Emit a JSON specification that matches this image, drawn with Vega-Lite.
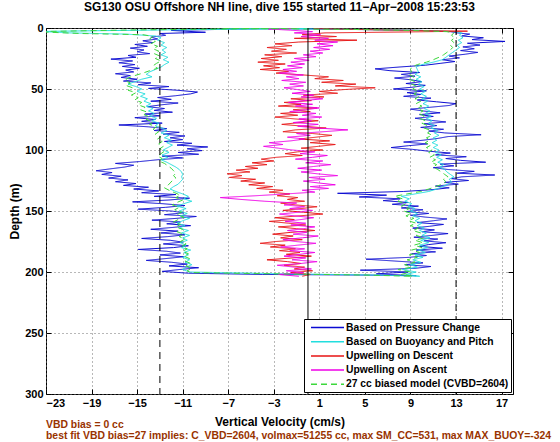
{
  "$schema": "https://vega.github.io/schema/vega-lite/v6.json",
  "width": 467,
  "height": 366,
  "autosize": "none",
  "padding": {"left": 46, "top": 28, "right": 47, "bottom": 48},
  "background": "white",
  "title": {"text": "SG130 OSU Offshore NH line, dive 155 started 11−Apr−2008 15:23:53", "font": "Liberation Sans", "fontSize": 12, "fontWeight": "bold", "color": "black", "offset": 8, "frame": "group", "anchor": "middle"},
  "config": {
    "font": "Liberation Sans",
    "view": {"stroke": "black", "strokeWidth": 1},
    "axis": {"labelFont": "Liberation Sans", "labelFontWeight": "bold", "labelFontSize": 11, "labelColor": "black", "titleFont": "Liberation Sans", "titleFontWeight": "bold", "titleFontSize": 12, "titleColor": "black", "tickColor": "black", "tickSize": -5, "labelPadding": 8, "domain": false, "gridColor": "#707070", "gridDash": [1, 3], "gridWidth": 1, "gridOpacity": 1}
  },
  "datasets": {
    "profiles": [
      {"s":"P","d":0.3,"v":-1},{"s":"P","d":1,"v":-7},{"s":"P","d":2,"v":-12},{"s":"P","d":3.5,"v":-9},{"s":"P","d":4.5,"v":-13},{"s":"P","d":6,"v":-12.5},{"s":"P","d":7.5,"v":-13.8},{"s":"P","d":9,"v":-13.2},{"s":"P","d":10.5,"v":-14.5},{"s":"P","d":12,"v":-13.6},{"s":"P","d":13.5,"v":-15.2},{"s":"P","d":15,"v":-14.1},{"s":"P","d":16.5,"v":-15.6},{"s":"P","d":18,"v":-14.4},{"s":"P","d":19.5,"v":-15},{"s":"P","d":21,"v":-13.9},{"s":"P","d":22.5,"v":-15.8},{"s":"P","d":24,"v":-15.1},{"s":"P","d":25.5,"v":-17.3},{"s":"P","d":27,"v":-15.4},{"s":"P","d":28.5,"v":-16.6},{"s":"P","d":30,"v":-15.2},{"s":"P","d":31.5,"v":-16.3},{"s":"P","d":33,"v":-14.8},{"s":"P","d":34.5,"v":-16},{"s":"P","d":36,"v":-15.3},{"s":"P","d":37.5,"v":-16.9},{"s":"P","d":39,"v":-15.6},{"s":"P","d":40.5,"v":-16.4},{"s":"P","d":42,"v":-15},{"s":"P","d":43.5,"v":-16.2},{"s":"P","d":45,"v":-13.8},{"s":"P","d":46.5,"v":-14.9},{"s":"P","d":48,"v":-12.2},{"s":"P","d":49.5,"v":-14},{"s":"P","d":51,"v":-11.5},{"s":"P","d":52.5,"v":-9.7},{"s":"P","d":54,"v":-10.3},{"s":"P","d":55.5,"v":-11.6},{"s":"P","d":57,"v":-13.2},{"s":"P","d":58.5,"v":-12},{"s":"P","d":60,"v":-13.8},{"s":"P","d":61.5,"v":-11.4},{"s":"P","d":63,"v":-12.9},{"s":"P","d":64.5,"v":-14.1},{"s":"P","d":66,"v":-12.6},{"s":"P","d":67.5,"v":-13.5},{"s":"P","d":69,"v":-11.9},{"s":"P","d":70.5,"v":-14.3},{"s":"P","d":72,"v":-13},{"s":"P","d":73.5,"v":-15.2},{"s":"P","d":75,"v":-13.4},{"s":"P","d":76.5,"v":-14.6},{"s":"P","d":78,"v":-12.8},{"s":"P","d":79.5,"v":-16.6},{"s":"P","d":81,"v":-14},{"s":"P","d":82.5,"v":-12.4},{"s":"P","d":84,"v":-13.5},{"s":"P","d":85.5,"v":-11.3},{"s":"P","d":87,"v":-12.7},{"s":"P","d":88.5,"v":-10.8},{"s":"P","d":90,"v":-12.1},{"s":"P","d":91.5,"v":-11},{"s":"P","d":93,"v":-12.6},{"s":"P","d":94.5,"v":-10.2},{"s":"P","d":96,"v":-11.5},{"s":"P","d":97.5,"v":-8.8},{"s":"P","d":99,"v":-10.6},{"s":"P","d":100.5,"v":-9.3},{"s":"P","d":102,"v":-11.4},{"s":"P","d":103.5,"v":-9.6},{"s":"P","d":105,"v":-12.8},{"s":"P","d":106.5,"v":-11},{"s":"P","d":108,"v":-13.2},{"s":"P","d":109.5,"v":-14.8},{"s":"P","d":111,"v":-16.9},{"s":"P","d":112.5,"v":-15.3},{"s":"P","d":114,"v":-16.1},{"s":"P","d":115.5,"v":-17.4},{"s":"P","d":117,"v":-18.6},{"s":"P","d":118.5,"v":-17.2},{"s":"P","d":120,"v":-18.1},{"s":"P","d":121.5,"v":-16.4},{"s":"P","d":123,"v":-17.5},{"s":"P","d":124.5,"v":-15.8},{"s":"P","d":126,"v":-16.9},{"s":"P","d":127.5,"v":-15.1},{"s":"P","d":129,"v":-16.2},{"s":"P","d":130.5,"v":-14},{"s":"P","d":132,"v":-15.3},{"s":"P","d":133.5,"v":-13.1},{"s":"P","d":135,"v":-14.6},{"s":"P","d":136.5,"v":-11.6},{"s":"P","d":138,"v":-13.5},{"s":"P","d":139.5,"v":-10.4},{"s":"P","d":141,"v":-12.2},{"s":"P","d":142.5,"v":-15.4},{"s":"P","d":144,"v":-12.8},{"s":"P","d":145.5,"v":-10.8},{"s":"P","d":147,"v":-12.5},{"s":"P","d":148.5,"v":-14.9},{"s":"P","d":150,"v":-12},{"s":"P","d":151.5,"v":-10.9},{"s":"P","d":153,"v":-12.6},{"s":"P","d":154.5,"v":-9.8},{"s":"P","d":156,"v":-11.5},{"s":"P","d":157.5,"v":-13.7},{"s":"P","d":159,"v":-11.2},{"s":"P","d":160.5,"v":-12.4},{"s":"P","d":162,"v":-10.3},{"s":"P","d":163.5,"v":-11.9},{"s":"P","d":165,"v":-13.8},{"s":"P","d":166.5,"v":-11.4},{"s":"P","d":168,"v":-12.9},{"s":"P","d":169.5,"v":-10.8},{"s":"P","d":171,"v":-12.3},{"s":"P","d":172.5,"v":-14.6},{"s":"P","d":174,"v":-12.1},{"s":"P","d":175.5,"v":-11},{"s":"P","d":177,"v":-12.7},{"s":"P","d":178.5,"v":-10.5},{"s":"P","d":180,"v":-11.8},{"s":"P","d":181.5,"v":-14.9},{"s":"P","d":183,"v":-12.4},{"s":"P","d":184.5,"v":-11.2},{"s":"P","d":186,"v":-13},{"s":"P","d":187.5,"v":-10.9},{"s":"P","d":189,"v":-12.5},{"s":"P","d":190.5,"v":-14.2},{"s":"P","d":192,"v":-12},{"s":"P","d":193.5,"v":-10.6},{"s":"P","d":195,"v":-12.2},{"s":"P","d":196.5,"v":-9.6},{"s":"P","d":198,"v":-11.3},{"s":"P","d":199.5,"v":-12.8},{"s":"P","d":201,"v":-10.5},{"s":"P","d":202,"v":-4},{"s":"P","d":202.5,"v":5},
      {"s":"P","d":203,"v":9.5},{"s":"P","d":201.5,"v":6},{"s":"P","d":200,"v":8.8},{"s":"P","d":198.5,"v":4.6},{"s":"P","d":197,"v":9.4},{"s":"P","d":195.5,"v":10.8},{"s":"P","d":194,"v":8.5},{"s":"P","d":192.5,"v":10.1},{"s":"P","d":191,"v":7.6},{"s":"P","d":189.5,"v":5.1},{"s":"P","d":188,"v":8.9},{"s":"P","d":186.5,"v":10.4},{"s":"P","d":185,"v":9.1},{"s":"P","d":183.5,"v":11.2},{"s":"P","d":182,"v":9.5},{"s":"P","d":180.5,"v":11.8},{"s":"P","d":179,"v":9.8},{"s":"P","d":177.5,"v":10.6},{"s":"P","d":176,"v":12.1},{"s":"P","d":174.5,"v":10.2},{"s":"P","d":173,"v":11.4},{"s":"P","d":171.5,"v":9.3},{"s":"P","d":170,"v":10.9},{"s":"P","d":168.5,"v":12.3},{"s":"P","d":167,"v":10},{"s":"P","d":165.5,"v":11.1},{"s":"P","d":164,"v":9.2},{"s":"P","d":162.5,"v":10.7},{"s":"P","d":161,"v":11.9},{"s":"P","d":159.5,"v":9.6},{"s":"P","d":158,"v":11},{"s":"P","d":156.5,"v":12.2},{"s":"P","d":155,"v":10.3},{"s":"P","d":153.5,"v":9},{"s":"P","d":152,"v":10.6},{"s":"P","d":150.5,"v":8.6},{"s":"P","d":149,"v":10.1},{"s":"P","d":147.5,"v":8.2},{"s":"P","d":146,"v":9.7},{"s":"P","d":144.5,"v":7.4},{"s":"P","d":143,"v":8.8},{"s":"P","d":141.5,"v":6.6},{"s":"P","d":140,"v":8.1},{"s":"P","d":138.5,"v":4.5},{"s":"P","d":137,"v":6.9},{"s":"P","d":135.5,"v":2.6},{"s":"P","d":134,"v":8.4},{"s":"P","d":132.5,"v":10.9},{"s":"P","d":131,"v":12.4},{"s":"P","d":129.5,"v":11.2},{"s":"P","d":128,"v":13.2},{"s":"P","d":126.5,"v":12},{"s":"P","d":125,"v":14.1},{"s":"P","d":123.5,"v":12.6},{"s":"P","d":122,"v":13.5},{"s":"P","d":120.5,"v":16.4},{"s":"P","d":119,"v":13.1},{"s":"P","d":117.5,"v":14.6},{"s":"P","d":116,"v":12.3},{"s":"P","d":114.5,"v":11},{"s":"P","d":113,"v":12.8},{"s":"P","d":111.5,"v":11.6},{"s":"P","d":110,"v":15.6},{"s":"P","d":108.5,"v":13.4},{"s":"P","d":107,"v":12.1},{"s":"P","d":105.5,"v":13.9},{"s":"P","d":104,"v":11.2},{"s":"P","d":102.5,"v":12.5},{"s":"P","d":101,"v":10.6},{"s":"P","d":99.5,"v":9.2},{"s":"P","d":98,"v":7.3},{"s":"P","d":96.5,"v":8.8},{"s":"P","d":95,"v":10.5},{"s":"P","d":93.5,"v":8.4},{"s":"P","d":92,"v":10.1},{"s":"P","d":90.5,"v":11.4},{"s":"P","d":89,"v":12.3},{"s":"P","d":87.5,"v":15.2},{"s":"P","d":86,"v":12},{"s":"P","d":84.5,"v":10.6},{"s":"P","d":83,"v":11.9},{"s":"P","d":81.5,"v":9.9},{"s":"P","d":80,"v":11.3},{"s":"P","d":78.5,"v":10.2},{"s":"P","d":77,"v":12.1},{"s":"P","d":75.5,"v":10.6},{"s":"P","d":74,"v":9.4},{"s":"P","d":72.5,"v":11},{"s":"P","d":71,"v":9.8},{"s":"P","d":69.5,"v":11.6},{"s":"P","d":68,"v":10.1},{"s":"P","d":66.5,"v":9},{"s":"P","d":65,"v":10.7},{"s":"P","d":63.5,"v":12.4},{"s":"P","d":62,"v":13},{"s":"P","d":60.5,"v":11.3},{"s":"P","d":59,"v":9.6},{"s":"P","d":57.5,"v":10.8},{"s":"P","d":56,"v":8.4},{"s":"P","d":54.5,"v":9.9},{"s":"P","d":53,"v":8.7},{"s":"P","d":51.5,"v":10.4},{"s":"P","d":50,"v":7.5},{"s":"P","d":48.5,"v":9.2},{"s":"P","d":47,"v":10.3},{"s":"P","d":45.5,"v":8.6},{"s":"P","d":44,"v":10},{"s":"P","d":42.5,"v":9.1},{"s":"P","d":41,"v":7.6},{"s":"P","d":39.5,"v":9.4},{"s":"P","d":38,"v":8.2},{"s":"P","d":36.5,"v":9.8},{"s":"P","d":35,"v":7.2},{"s":"P","d":33.5,"v":5.9},{"s":"P","d":32,"v":8},{"s":"P","d":30.5,"v":10.3},{"s":"P","d":29,"v":11.6},{"s":"P","d":27.5,"v":12.9},{"s":"P","d":26,"v":11.8},{"s":"P","d":24.5,"v":13.3},{"s":"P","d":23,"v":12.4},{"s":"P","d":21.5,"v":13.8},{"s":"P","d":20,"v":14.9},{"s":"P","d":18.5,"v":13.4},{"s":"P","d":17,"v":14.6},{"s":"P","d":15.5,"v":13.6},{"s":"P","d":14,"v":15.1},{"s":"P","d":12.5,"v":14},{"s":"P","d":11,"v":17.3},{"s":"P","d":9.5,"v":14.4},{"s":"P","d":8,"v":15.4},{"s":"P","d":6.5,"v":13.5},{"s":"P","d":5,"v":14.2},{"s":"P","d":4,"v":13.1},{"s":"P","d":3,"v":12.5},{"s":"P","d":2,"v":10},{"s":"P","d":1.2,"v":4},{"s":"P","d":0.5,"v":-3},{"s":"P","d":0.2,"v":-6},

      {"s":"B","d":0.4,"v":0},{"s":"B","d":1.5,"v":-12},{"s":"B","d":2.8,"v":-23.5},{"s":"B","d":4,"v":-21},{"s":"B","d":5,"v":-16},{"s":"B","d":6.5,"v":-13.4},{"s":"B","d":8,"v":-12.9},{"s":"B","d":10,"v":-13.2},{"s":"B","d":12,"v":-12.6},{"s":"B","d":14,"v":-12.9},{"s":"B","d":16,"v":-12.4},{"s":"B","d":18,"v":-12.8},{"s":"B","d":20,"v":-12.5},{"s":"B","d":22,"v":-12.9},{"s":"B","d":24,"v":-12.3},{"s":"B","d":26,"v":-12.7},{"s":"B","d":28,"v":-12.2},{"s":"B","d":30,"v":-12.6},{"s":"B","d":32,"v":-12.9},{"s":"B","d":34,"v":-13.4},{"s":"B","d":36,"v":-13.9},{"s":"B","d":38,"v":-14.2},{"s":"B","d":40,"v":-13.7},{"s":"B","d":42,"v":-14.6},{"s":"B","d":44,"v":-15.2},{"s":"B","d":46,"v":-15.8},{"s":"B","d":48,"v":-15.1},{"s":"B","d":50,"v":-14.6},{"s":"B","d":52,"v":-15},{"s":"B","d":54,"v":-14.3},{"s":"B","d":56,"v":-14.7},{"s":"B","d":58,"v":-14.1},{"s":"B","d":60,"v":-14.4},{"s":"B","d":62,"v":-13.8},{"s":"B","d":64,"v":-14.2},{"s":"B","d":66,"v":-13.6},{"s":"B","d":68,"v":-14},{"s":"B","d":70,"v":-13.5},{"s":"B","d":72,"v":-13.9},{"s":"B","d":74,"v":-13.3},{"s":"B","d":76,"v":-13.7},{"s":"B","d":78,"v":-13.1},{"s":"B","d":80,"v":-13.4},{"s":"B","d":82,"v":-12.8},{"s":"B","d":84,"v":-12.4},{"s":"B","d":86,"v":-12.9},{"s":"B","d":88,"v":-12.2},{"s":"B","d":90,"v":-12.6},{"s":"B","d":92,"v":-12},{"s":"B","d":94,"v":-12.4},{"s":"B","d":96,"v":-11.9},{"s":"B","d":98,"v":-12.3},{"s":"B","d":100,"v":-12.7},{"s":"B","d":102,"v":-12.2},{"s":"B","d":104,"v":-12.8},{"s":"B","d":106,"v":-12.3},{"s":"B","d":108,"v":-12.9},{"s":"B","d":110,"v":-12.4},{"s":"B","d":112,"v":-12},{"s":"B","d":114,"v":-11.6},{"s":"B","d":116,"v":-11.3},{"s":"B","d":118,"v":-11.1},{"s":"B","d":120,"v":-11},{"s":"B","d":122,"v":-11.1},{"s":"B","d":124,"v":-11},{"s":"B","d":126,"v":-11.2},{"s":"B","d":128,"v":-11.4},{"s":"B","d":130,"v":-11.8},{"s":"B","d":132,"v":-12.1},{"s":"B","d":134,"v":-11.6},{"s":"B","d":136,"v":-11},{"s":"B","d":138,"v":-10.5},{"s":"B","d":140,"v":-10.9},{"s":"B","d":142,"v":-10.2},{"s":"B","d":144,"v":-10.9},{"s":"B","d":146,"v":-11.5},{"s":"B","d":148,"v":-10.7},{"s":"B","d":150,"v":-11.3},{"s":"B","d":152,"v":-10.6},{"s":"B","d":154,"v":-11.2},{"s":"B","d":156,"v":-10.4},{"s":"B","d":158,"v":-11},{"s":"B","d":160,"v":-11.5},{"s":"B","d":162,"v":-10.8},{"s":"B","d":164,"v":-11.3},{"s":"B","d":166,"v":-10.5},{"s":"B","d":168,"v":-11.1},{"s":"B","d":170,"v":-10.4},{"s":"B","d":172,"v":-11},{"s":"B","d":174,"v":-10.6},{"s":"B","d":176,"v":-11.2},{"s":"B","d":178,"v":-10.7},{"s":"B","d":180,"v":-11.1},{"s":"B","d":182,"v":-10.3},{"s":"B","d":184,"v":-10.9},{"s":"B","d":186,"v":-10.5},{"s":"B","d":188,"v":-11},{"s":"B","d":190,"v":-10.4},{"s":"B","d":192,"v":-10.8},{"s":"B","d":194,"v":-10.2},{"s":"B","d":196,"v":-10.7},{"s":"B","d":198,"v":-11},{"s":"B","d":200,"v":-10.4},{"s":"B","d":201.5,"v":-2},{"s":"B","d":202.5,"v":6},
      {"s":"B","d":203.5,"v":9.8},{"s":"B","d":202,"v":8.6},{"s":"B","d":200,"v":9.5},{"s":"B","d":198,"v":8.3},{"s":"B","d":196,"v":9.6},{"s":"B","d":194,"v":9},{"s":"B","d":192,"v":9.9},{"s":"B","d":190,"v":9.2},{"s":"B","d":188,"v":10.1},{"s":"B","d":186,"v":9.4},{"s":"B","d":184,"v":10.3},{"s":"B","d":182,"v":9.7},{"s":"B","d":180,"v":10.5},{"s":"B","d":178,"v":9.8},{"s":"B","d":176,"v":10.6},{"s":"B","d":174,"v":9.9},{"s":"B","d":172,"v":10.7},{"s":"B","d":170,"v":10},{"s":"B","d":168,"v":10.4},{"s":"B","d":166,"v":9.8},{"s":"B","d":164,"v":10.2},{"s":"B","d":162,"v":9.6},{"s":"B","d":160,"v":10},{"s":"B","d":158,"v":9.4},{"s":"B","d":156,"v":9.8},{"s":"B","d":154,"v":9.2},{"s":"B","d":152,"v":9.6},{"s":"B","d":150,"v":9},{"s":"B","d":148,"v":9.4},{"s":"B","d":146,"v":8.8},{"s":"B","d":144,"v":9.1},{"s":"B","d":142,"v":8.5},{"s":"B","d":140,"v":8.9},{"s":"B","d":138,"v":8.2},{"s":"B","d":136,"v":9.4},{"s":"B","d":134,"v":10.6},{"s":"B","d":132,"v":11.3},{"s":"B","d":130,"v":11.8},{"s":"B","d":128,"v":12.3},{"s":"B","d":126,"v":12.6},{"s":"B","d":124,"v":12.4},{"s":"B","d":122,"v":12.8},{"s":"B","d":120,"v":12.5},{"s":"B","d":118,"v":12.2},{"s":"B","d":116,"v":12},{"s":"B","d":114,"v":11.6},{"s":"B","d":112,"v":11.9},{"s":"B","d":110,"v":11.4},{"s":"B","d":108,"v":11.8},{"s":"B","d":106,"v":11.3},{"s":"B","d":104,"v":11.7},{"s":"B","d":102,"v":11.2},{"s":"B","d":100,"v":11.5},{"s":"B","d":98,"v":11},{"s":"B","d":96,"v":11.4},{"s":"B","d":94,"v":10.9},{"s":"B","d":92,"v":11.3},{"s":"B","d":90,"v":11},{"s":"B","d":88,"v":11.5},{"s":"B","d":86,"v":11.1},{"s":"B","d":84,"v":11.4},{"s":"B","d":82,"v":10.8},{"s":"B","d":80,"v":11.1},{"s":"B","d":78,"v":10.6},{"s":"B","d":76,"v":10.9},{"s":"B","d":74,"v":10.4},{"s":"B","d":72,"v":10.8},{"s":"B","d":70,"v":10.3},{"s":"B","d":68,"v":10.7},{"s":"B","d":66,"v":10.2},{"s":"B","d":64,"v":10.6},{"s":"B","d":62,"v":10.1},{"s":"B","d":60,"v":10.5},{"s":"B","d":58,"v":10},{"s":"B","d":56,"v":10.4},{"s":"B","d":54,"v":9.9},{"s":"B","d":52,"v":10.3},{"s":"B","d":50,"v":9.8},{"s":"B","d":48,"v":10.2},{"s":"B","d":46,"v":9.7},{"s":"B","d":44,"v":10},{"s":"B","d":42,"v":9.5},{"s":"B","d":40,"v":9.9},{"s":"B","d":38,"v":9.4},{"s":"B","d":36,"v":9.7},{"s":"B","d":34,"v":9.6},{"s":"B","d":32,"v":9.5},{"s":"B","d":30,"v":10},{"s":"B","d":28,"v":11},{"s":"B","d":26,"v":11.8},{"s":"B","d":24,"v":12.1},{"s":"B","d":22,"v":12.4},{"s":"B","d":20,"v":12.7},{"s":"B","d":18,"v":13},{"s":"B","d":16,"v":13.3},{"s":"B","d":14,"v":13.1},{"s":"B","d":12,"v":13.5},{"s":"B","d":10,"v":13.2},{"s":"B","d":8,"v":13.6},{"s":"B","d":6,"v":13.3},{"s":"B","d":4,"v":13.5},{"s":"B","d":3,"v":13},{"s":"B","d":2,"v":10},{"s":"B","d":1.2,"v":5},{"s":"B","d":0.6,"v":-2},{"s":"B","d":0.2,"v":-7},

      {"s":"D","d":0.5,"v":0.5},{"s":"D","d":1.8,"v":8},{"s":"D","d":2.6,"v":14},{"s":"D","d":3.2,"v":9},{"s":"D","d":4,"v":1.5},{"s":"D","d":5.5,"v":-0.5},{"s":"D","d":7,"v":2.5},{"s":"D","d":8.5,"v":-1.2},{"s":"D","d":10,"v":4.3},{"s":"D","d":11.5,"v":-0.8},{"s":"D","d":13,"v":-2.9},{"s":"D","d":14.5,"v":-1.4},{"s":"D","d":16,"v":-3.6},{"s":"D","d":17.5,"v":-1.9},{"s":"D","d":19,"v":-3.2},{"s":"D","d":20.5,"v":-1},{"s":"D","d":22,"v":-3.8},{"s":"D","d":23.5,"v":-2.3},{"s":"D","d":25,"v":-4.1},{"s":"D","d":26.5,"v":-2.6},{"s":"D","d":28,"v":-4.4},{"s":"D","d":29.5,"v":-2},{"s":"D","d":31,"v":-3.9},{"s":"D","d":32.5,"v":-2.5},{"s":"D","d":34,"v":-4.2},{"s":"D","d":35.5,"v":-1.7},{"s":"D","d":37,"v":-2.8},{"s":"D","d":38.5,"v":-0.4},{"s":"D","d":40,"v":1.8},{"s":"D","d":41.5,"v":0.6},{"s":"D","d":43,"v":3.1},{"s":"D","d":44.5,"v":1.2},{"s":"D","d":46,"v":4.2},{"s":"D","d":47.5,"v":2.4},{"s":"D","d":49,"v":5.9},{"s":"D","d":50.5,"v":3.1},{"s":"D","d":52,"v":1},{"s":"D","d":53.5,"v":2.6},{"s":"D","d":55,"v":-0.4},{"s":"D","d":56.5,"v":1.4},{"s":"D","d":58,"v":-1.5},{"s":"D","d":59.5,"v":0.3},{"s":"D","d":61,"v":-2.1},{"s":"D","d":62.5,"v":-0.6},{"s":"D","d":64,"v":-2.6},{"s":"D","d":65.5,"v":0.8},{"s":"D","d":67,"v":-1.3},{"s":"D","d":68.5,"v":0.2},{"s":"D","d":70,"v":-2.4},{"s":"D","d":71.5,"v":-0.9},{"s":"D","d":73,"v":-2.9},{"s":"D","d":74.5,"v":-1.2},{"s":"D","d":76,"v":0.9},{"s":"D","d":77.5,"v":-0.7},{"s":"D","d":79,"v":-2.3},{"s":"D","d":80.5,"v":-0.4},{"s":"D","d":82,"v":1.6},{"s":"D","d":83.5,"v":-1.1},{"s":"D","d":85,"v":-2.2},{"s":"D","d":86.5,"v":0.4},{"s":"D","d":88,"v":2.1},{"s":"D","d":89.5,"v":0.7},{"s":"D","d":91,"v":-0.8},{"s":"D","d":92.5,"v":1.9},{"s":"D","d":94,"v":0.2},{"s":"D","d":95.5,"v":2.4},{"s":"D","d":97,"v":0.9},{"s":"D","d":98.5,"v":-0.6},{"s":"D","d":100,"v":1.3},{"s":"D","d":101.5,"v":-0.9},{"s":"D","d":103,"v":-2},{"s":"D","d":104.5,"v":-0.5},{"s":"D","d":106,"v":-2.8},{"s":"D","d":107.5,"v":-4.1},{"s":"D","d":109,"v":-3},{"s":"D","d":110.5,"v":-4.9},{"s":"D","d":112,"v":-3.6},{"s":"D","d":113.5,"v":-5.5},{"s":"D","d":115,"v":-4.4},{"s":"D","d":116.5,"v":-6.3},{"s":"D","d":118,"v":-5.1},{"s":"D","d":119.5,"v":-7.1},{"s":"D","d":121,"v":-5.8},{"s":"D","d":122.5,"v":-6.9},{"s":"D","d":124,"v":-4.6},{"s":"D","d":125.5,"v":-5.9},{"s":"D","d":127,"v":-3.8},{"s":"D","d":128.5,"v":-5.2},{"s":"D","d":130,"v":-3.1},{"s":"D","d":131.5,"v":-4.5},{"s":"D","d":133,"v":-2.2},{"s":"D","d":134.5,"v":-3.4},{"s":"D","d":136,"v":-1.6},{"s":"D","d":137.5,"v":-2.7},{"s":"D","d":139,"v":-0.9},{"s":"D","d":140.5,"v":-1.8},{"s":"D","d":142,"v":-0.3},{"s":"D","d":143.5,"v":-2.4},{"s":"D","d":145,"v":-1.1},{"s":"D","d":146.5,"v":0.8},{"s":"D","d":148,"v":-0.6},{"s":"D","d":149.5,"v":-2.2},{"s":"D","d":151,"v":-0.4},{"s":"D","d":152.5,"v":1.3},{"s":"D","d":154,"v":-0.8},{"s":"D","d":155.5,"v":-2.9},{"s":"D","d":157,"v":-1.2},{"s":"D","d":158.5,"v":-3.4},{"s":"D","d":160,"v":-1.7},{"s":"D","d":161.5,"v":-0.2},{"s":"D","d":163,"v":-2.6},{"s":"D","d":164.5,"v":-1},{"s":"D","d":166,"v":0.6},{"s":"D","d":167.5,"v":-1.5},{"s":"D","d":169,"v":-3.1},{"s":"D","d":170.5,"v":-1.3},{"s":"D","d":172,"v":-2.4},{"s":"D","d":173.5,"v":-0.5},{"s":"D","d":175,"v":-2.8},{"s":"D","d":176.5,"v":-4.2},{"s":"D","d":178,"v":-2},{"s":"D","d":179.5,"v":-3.3},{"s":"D","d":181,"v":-1.1},{"s":"D","d":182.5,"v":-2.5},{"s":"D","d":184,"v":-0.7},{"s":"D","d":185.5,"v":-1.9},{"s":"D","d":187,"v":0.3},{"s":"D","d":188.5,"v":-1.4},{"s":"D","d":190,"v":-3.6},{"s":"D","d":191.5,"v":-1.8},{"s":"D","d":193,"v":-0.6},{"s":"D","d":194.5,"v":-2.1},{"s":"D","d":196,"v":-0.3},{"s":"D","d":197.5,"v":-1.2},{"s":"D","d":199,"v":0.4},{"s":"D","d":200.5,"v":-1.5},{"s":"D","d":202,"v":0.2},{"s":"D","d":203.5,"v":-0.5},

      {"s":"A","d":203.5,"v":-0.8},{"s":"A","d":202,"v":-2.6},{"s":"A","d":200.5,"v":-0.4},{"s":"A","d":199,"v":-1.9},{"s":"A","d":197.5,"v":0.3},{"s":"A","d":196,"v":-1.2},{"s":"A","d":194.5,"v":-2.7},{"s":"A","d":193,"v":-0.6},{"s":"A","d":191.5,"v":0.8},{"s":"A","d":190,"v":-1.4},{"s":"A","d":188.5,"v":-0.2},{"s":"A","d":187,"v":-2.1},{"s":"A","d":185.5,"v":-0.7},{"s":"A","d":184,"v":0.6},{"s":"A","d":182.5,"v":-1.6},{"s":"A","d":181,"v":-0.3},{"s":"A","d":179.5,"v":-2.4},{"s":"A","d":178,"v":-0.9},{"s":"A","d":176.5,"v":0.7},{"s":"A","d":175,"v":-1.1},{"s":"A","d":173.5,"v":-2.2},{"s":"A","d":172,"v":-0.5},{"s":"A","d":170.5,"v":0.9},{"s":"A","d":169,"v":-1.3},{"s":"A","d":167.5,"v":-0.1},{"s":"A","d":166,"v":-1.8},{"s":"A","d":164.5,"v":-0.4},{"s":"A","d":163,"v":0.6},{"s":"A","d":161.5,"v":-1.5},{"s":"A","d":160,"v":-0.2},{"s":"A","d":158.5,"v":-2},{"s":"A","d":157,"v":-0.6},{"s":"A","d":155.5,"v":0.5},{"s":"A","d":154,"v":-1.2},{"s":"A","d":152.5,"v":-2.5},{"s":"A","d":151,"v":-0.8},{"s":"A","d":149.5,"v":0.4},{"s":"A","d":148,"v":-1.6},{"s":"A","d":146.5,"v":-0.3},{"s":"A","d":145,"v":-2.1},{"s":"A","d":143.5,"v":-1},{"s":"A","d":142,"v":-3.8},{"s":"A","d":140.5,"v":-5.9},{"s":"A","d":139,"v":-7.7},{"s":"A","d":137.5,"v":-4.6},{"s":"A","d":136,"v":-1.9},{"s":"A","d":134.5,"v":0.6},{"s":"A","d":133,"v":-0.5},{"s":"A","d":131.5,"v":1.8},{"s":"A","d":130,"v":0.2},{"s":"A","d":128.5,"v":2.4},{"s":"A","d":127,"v":0.9},{"s":"A","d":125.5,"v":-0.4},{"s":"A","d":124,"v":1.5},{"s":"A","d":122.5,"v":0.1},{"s":"A","d":121,"v":2.6},{"s":"A","d":119.5,"v":0.8},{"s":"A","d":118,"v":-0.6},{"s":"A","d":116.5,"v":1.2},{"s":"A","d":115,"v":-0.9},{"s":"A","d":113.5,"v":0.5},{"s":"A","d":112,"v":2},{"s":"A","d":110.5,"v":-0.2},{"s":"A","d":109,"v":1.3},{"s":"A","d":107.5,"v":-1.1},{"s":"A","d":106,"v":0.4},{"s":"A","d":104.5,"v":1.7},{"s":"A","d":103,"v":-0.7},{"s":"A","d":101.5,"v":0.6},{"s":"A","d":100,"v":-1.4},{"s":"A","d":98.5,"v":-2.6},{"s":"A","d":97,"v":-3.9},{"s":"A","d":95.5,"v":-2.2},{"s":"A","d":94,"v":-3.4},{"s":"A","d":92.5,"v":-1.5},{"s":"A","d":91,"v":-0.3},{"s":"A","d":89.5,"v":-1.8},{"s":"A","d":88,"v":0.2},{"s":"A","d":86.5,"v":-1},{"s":"A","d":85,"v":1.4},{"s":"A","d":83.5,"v":3.5},{"s":"A","d":82,"v":0.8},{"s":"A","d":80.5,"v":-0.9},{"s":"A","d":79,"v":0.9},{"s":"A","d":77.5,"v":-1.3},{"s":"A","d":76,"v":0.3},{"s":"A","d":74.5,"v":-0.8},{"s":"A","d":73,"v":1.2},{"s":"A","d":71.5,"v":-0.5},{"s":"A","d":70,"v":0.7},{"s":"A","d":68.5,"v":-1.6},{"s":"A","d":67,"v":-0.2},{"s":"A","d":65.5,"v":1},{"s":"A","d":64,"v":-1.1},{"s":"A","d":62.5,"v":0.4},{"s":"A","d":61,"v":-1.7},{"s":"A","d":59.5,"v":-0.3},{"s":"A","d":58,"v":1.3},{"s":"A","d":56.5,"v":-0.6},{"s":"A","d":55,"v":0.5},{"s":"A","d":53.5,"v":-1.4},{"s":"A","d":52,"v":0.2},{"s":"A","d":50.5,"v":-0.9},{"s":"A","d":49,"v":-2.1},{"s":"A","d":47.5,"v":-0.4},{"s":"A","d":46,"v":-1.6},{"s":"A","d":44.5,"v":-0.2},{"s":"A","d":43,"v":-2.3},{"s":"A","d":41.5,"v":-0.8},{"s":"A","d":40,"v":-1.9},{"s":"A","d":38.5,"v":-0.4},{"s":"A","d":37,"v":-2.5},{"s":"A","d":35.5,"v":-1},{"s":"A","d":34,"v":-2.2},{"s":"A","d":32.5,"v":-0.5},{"s":"A","d":31,"v":-1.8},{"s":"A","d":29.5,"v":-0.3},{"s":"A","d":28,"v":-1.5},{"s":"A","d":26.5,"v":0.1},{"s":"A","d":25,"v":-1.2},{"s":"A","d":23.5,"v":0.7},{"s":"A","d":22,"v":-0.4},{"s":"A","d":20.5,"v":1.3},{"s":"A","d":19,"v":0.2},{"s":"A","d":17.5,"v":1.9},{"s":"A","d":16,"v":0.5},{"s":"A","d":14.5,"v":2.2},{"s":"A","d":13,"v":0.8},{"s":"A","d":11.5,"v":2.6},{"s":"A","d":10,"v":0.6},{"s":"A","d":8.5,"v":1.8},{"s":"A","d":7,"v":-0.6},{"s":"A","d":5.5,"v":1.1},{"s":"A","d":4,"v":-1.2},{"s":"A","d":3,"v":0.4},{"s":"A","d":1.8,"v":-1.5},{"s":"A","d":0.8,"v":-3.5},{"s":"A","d":0.3,"v":-1},

      {"s":"M","d":0.3,"v":-1},{"s":"M","d":1.5,"v":-15},{"s":"M","d":3,"v":-24},{"s":"M","d":4.5,"v":-20},{"s":"M","d":5.5,"v":-14.5},{"s":"M","d":7,"v":-13.6},{"s":"M","d":9,"v":-13.9},{"s":"M","d":11,"v":-13.4},{"s":"M","d":13,"v":-13.8},{"s":"M","d":15,"v":-13.2},{"s":"M","d":17,"v":-13.6},{"s":"M","d":19,"v":-13.1},{"s":"M","d":21,"v":-13.5},{"s":"M","d":23,"v":-13},{"s":"M","d":25,"v":-13.4},{"s":"M","d":27,"v":-12.9},{"s":"M","d":29,"v":-13.3},{"s":"M","d":31,"v":-13.6},{"s":"M","d":33,"v":-13.2},{"s":"M","d":35,"v":-13.9},{"s":"M","d":37,"v":-14.5},{"s":"M","d":39,"v":-15.2},{"s":"M","d":41,"v":-15.8},{"s":"M","d":43,"v":-16.1},{"s":"M","d":45,"v":-15.6},{"s":"M","d":47,"v":-16},{"s":"M","d":49,"v":-15.4},{"s":"M","d":51,"v":-15.8},{"s":"M","d":53,"v":-15.1},{"s":"M","d":55,"v":-15.5},{"s":"M","d":57,"v":-14.9},{"s":"M","d":59,"v":-15.2},{"s":"M","d":61,"v":-14.6},{"s":"M","d":63,"v":-14.9},{"s":"M","d":65,"v":-14.3},{"s":"M","d":67,"v":-14.7},{"s":"M","d":69,"v":-14.1},{"s":"M","d":71,"v":-14.4},{"s":"M","d":73,"v":-13.9},{"s":"M","d":75,"v":-14.2},{"s":"M","d":77,"v":-13.6},{"s":"M","d":79,"v":-13.9},{"s":"M","d":81,"v":-13.3},{"s":"M","d":83,"v":-13.6},{"s":"M","d":85,"v":-13.1},{"s":"M","d":87,"v":-13.4},{"s":"M","d":89,"v":-12.9},{"s":"M","d":91,"v":-13.2},{"s":"M","d":93,"v":-12.8},{"s":"M","d":95,"v":-13.1},{"s":"M","d":97,"v":-12.7},{"s":"M","d":99,"v":-13},{"s":"M","d":101,"v":-12.6},{"s":"M","d":103,"v":-12.9},{"s":"M","d":105,"v":-13.2},{"s":"M","d":107,"v":-12.8},{"s":"M","d":109,"v":-13.1},{"s":"M","d":111,"v":-12.6},{"s":"M","d":113,"v":-12.3},{"s":"M","d":115,"v":-12},{"s":"M","d":117,"v":-11.8},{"s":"M","d":119,"v":-11.6},{"s":"M","d":121,"v":-11.8},{"s":"M","d":123,"v":-11.6},{"s":"M","d":125,"v":-11.9},{"s":"M","d":127,"v":-12.1},{"s":"M","d":129,"v":-12.3},{"s":"M","d":131,"v":-12.6},{"s":"M","d":133,"v":-12.2},{"s":"M","d":135,"v":-11.7},{"s":"M","d":137,"v":-11.2},{"s":"M","d":139,"v":-11.6},{"s":"M","d":141,"v":-11},{"s":"M","d":143,"v":-11.5},{"s":"M","d":145,"v":-11.9},{"s":"M","d":147,"v":-11.3},{"s":"M","d":149,"v":-11.7},{"s":"M","d":151,"v":-11.1},{"s":"M","d":153,"v":-11.5},{"s":"M","d":155,"v":-10.9},{"s":"M","d":157,"v":-11.4},{"s":"M","d":159,"v":-11.8},{"s":"M","d":161,"v":-11.2},{"s":"M","d":163,"v":-11.6},{"s":"M","d":165,"v":-11},{"s":"M","d":167,"v":-11.5},{"s":"M","d":169,"v":-10.9},{"s":"M","d":171,"v":-11.3},{"s":"M","d":173,"v":-10.8},{"s":"M","d":175,"v":-11.2},{"s":"M","d":177,"v":-10.7},{"s":"M","d":179,"v":-11.1},{"s":"M","d":181,"v":-10.6},{"s":"M","d":183,"v":-11},{"s":"M","d":185,"v":-10.5},{"s":"M","d":187,"v":-10.9},{"s":"M","d":189,"v":-10.4},{"s":"M","d":191,"v":-10.8},{"s":"M","d":193,"v":-10.3},{"s":"M","d":195,"v":-10.7},{"s":"M","d":197,"v":-10.2},{"s":"M","d":199,"v":-10.6},{"s":"M","d":200.5,"v":-10.3},{"s":"M","d":201.5,"v":-3},{"s":"M","d":202.5,"v":5},
      {"s":"M","d":203.5,"v":9.2},{"s":"M","d":202,"v":8.2},{"s":"M","d":200,"v":9},{"s":"M","d":198,"v":7.9},{"s":"M","d":196,"v":9.1},{"s":"M","d":194,"v":8.5},{"s":"M","d":192,"v":9.4},{"s":"M","d":190,"v":8.7},{"s":"M","d":188,"v":9.6},{"s":"M","d":186,"v":8.9},{"s":"M","d":184,"v":9.8},{"s":"M","d":182,"v":9.1},{"s":"M","d":180,"v":10},{"s":"M","d":178,"v":9.3},{"s":"M","d":176,"v":10.1},{"s":"M","d":174,"v":9.4},{"s":"M","d":172,"v":10.2},{"s":"M","d":170,"v":9.5},{"s":"M","d":168,"v":9.9},{"s":"M","d":166,"v":9.2},{"s":"M","d":164,"v":9.7},{"s":"M","d":162,"v":9},{"s":"M","d":160,"v":9.5},{"s":"M","d":158,"v":8.8},{"s":"M","d":156,"v":9.3},{"s":"M","d":154,"v":8.6},{"s":"M","d":152,"v":9.1},{"s":"M","d":150,"v":8.4},{"s":"M","d":148,"v":8.9},{"s":"M","d":146,"v":8.2},{"s":"M","d":144,"v":8.6},{"s":"M","d":142,"v":7.9},{"s":"M","d":140,"v":8.3},{"s":"M","d":138,"v":7.6},{"s":"M","d":136,"v":8.7},{"s":"M","d":134,"v":9.9},{"s":"M","d":132,"v":10.6},{"s":"M","d":130,"v":11.2},{"s":"M","d":128,"v":11.8},{"s":"M","d":126,"v":12.1},{"s":"M","d":124,"v":11.9},{"s":"M","d":122,"v":12.3},{"s":"M","d":120,"v":12},{"s":"M","d":118,"v":11.7},{"s":"M","d":116,"v":11.4},{"s":"M","d":114,"v":11},{"s":"M","d":112,"v":11.3},{"s":"M","d":110,"v":10.8},{"s":"M","d":108,"v":11.2},{"s":"M","d":106,"v":10.7},{"s":"M","d":104,"v":11.1},{"s":"M","d":102,"v":10.6},{"s":"M","d":100,"v":10.9},{"s":"M","d":98,"v":10.4},{"s":"M","d":96,"v":10.8},{"s":"M","d":94,"v":10.3},{"s":"M","d":92,"v":10.7},{"s":"M","d":90,"v":10.4},{"s":"M","d":88,"v":10.9},{"s":"M","d":86,"v":10.5},{"s":"M","d":84,"v":10.8},{"s":"M","d":82,"v":10.2},{"s":"M","d":80,"v":10.5},{"s":"M","d":78,"v":10},{"s":"M","d":76,"v":10.3},{"s":"M","d":74,"v":9.8},{"s":"M","d":72,"v":10.2},{"s":"M","d":70,"v":9.7},{"s":"M","d":68,"v":10.1},{"s":"M","d":66,"v":9.6},{"s":"M","d":64,"v":10},{"s":"M","d":62,"v":9.5},{"s":"M","d":60,"v":9.9},{"s":"M","d":58,"v":9.4},{"s":"M","d":56,"v":9.8},{"s":"M","d":54,"v":9.3},{"s":"M","d":52,"v":9.7},{"s":"M","d":50,"v":9.2},{"s":"M","d":48,"v":9.6},{"s":"M","d":46,"v":9.1},{"s":"M","d":44,"v":9.4},{"s":"M","d":42,"v":8.9},{"s":"M","d":40,"v":9.3},{"s":"M","d":38,"v":8.8},{"s":"M","d":36,"v":9.1},{"s":"M","d":34,"v":9},{"s":"M","d":32,"v":9.1},{"s":"M","d":30,"v":9.6},{"s":"M","d":28,"v":10.4},{"s":"M","d":26,"v":11},{"s":"M","d":24,"v":11.5},{"s":"M","d":22,"v":11.9},{"s":"M","d":20,"v":12.2},{"s":"M","d":18,"v":12.5},{"s":"M","d":16,"v":12.7},{"s":"M","d":14,"v":12.5},{"s":"M","d":12,"v":12.8},{"s":"M","d":10,"v":12.6},{"s":"M","d":8,"v":12.9},{"s":"M","d":6,"v":12.6},{"s":"M","d":4,"v":12.8},{"s":"M","d":3,"v":12.2},{"s":"M","d":2,"v":9},{"s":"M","d":1.2,"v":4},{"s":"M","d":0.6,"v":-3},{"s":"M","d":0.2,"v":-8}
    ]
  },
  "resolve": {"axis": {"x": "independent", "y": "independent"}},
  "layer": [
    {
      "data": {"name": "profiles"},
      "mark": {"type": "line", "strokeWidth": 1, "clip": true},
      "encoding": {
        "x": {"field": "v", "type": "quantitative", "scale": {"domain": [-23, 18], "nice": false, "zero": false}, "axis": {"orient": "bottom", "values": [-23, -19, -15, -11, -7, -3, 1, 5, 9, 13, 17], "title": "Vertical Velocity (cm/s)", "grid": true, "titlePadding": 8}},
        "y": {"field": "d", "type": "quantitative", "scale": {"domain": [0, 300], "reverse": true, "nice": false, "zero": false}, "axis": {"orient": "left", "values": [0, 50, 100, 150, 200, 250, 300], "title": "Depth (m)", "grid": true, "titlePadding": 3}},
        "color": {"field": "s", "type": "nominal", "scale": {"domain": ["P", "B", "D", "A", "M"], "range": ["#0a0ad2", "#22dede", "#e81414", "#f000e8", "#3cd83c"]},
          "legend": {"title": null, "orient": "bottom-right", "offset": 2, "padding": 2, "strokeColor": "black", "fillColor": "white", "cornerRadius": 0, "labelFont": "Liberation Sans", "labelFontWeight": "bold", "labelFontSize": 10.3, "labelColor": "black", "labelLimit": 400, "symbolType": "M-3,0H3", "symbolSize": 121, "symbolStrokeWidth": 1.5, "symbolOffset": 15, "labelOffset": 12, "rowPadding": 2.2,
            "labelExpr": "datum.value == 'P' ? 'Based on Pressure Change' : datum.value == 'B' ? 'Based on Buoyancy and Pitch' : datum.value == 'D' ? 'Upwelling on Descent' : datum.value == 'A' ? 'Upwelling on Ascent' : '27 cc biased model (CVBD=2604)'"}},
        "strokeDash": {"field": "s", "type": "nominal", "scale": {"domain": ["P", "B", "D", "A", "M"], "range": [[1, 0], [1, 0], [1, 0], [1, 0], [6, 4]]},
          "legend": {"title": null, "orient": "bottom-right", "offset": 2, "padding": 2, "strokeColor": "black", "fillColor": "white", "cornerRadius": 0, "labelFont": "Liberation Sans", "labelFontWeight": "bold", "labelFontSize": 10.3, "labelColor": "black", "labelLimit": 400, "symbolType": "M-3,0H3", "symbolSize": 121, "symbolStrokeWidth": 1.5, "symbolOffset": 15, "labelOffset": 12, "rowPadding": 2.2,
            "labelExpr": "datum.value == 'P' ? 'Based on Pressure Change' : datum.value == 'B' ? 'Based on Buoyancy and Pitch' : datum.value == 'D' ? 'Upwelling on Descent' : datum.value == 'A' ? 'Upwelling on Ascent' : '27 cc biased model (CVBD=2604)'"}},
        "order": {"value": null}
      }
    },
    {
      "data": {"values": [{"x": -13}, {"x": 13}]},
      "mark": {"type": "rule", "color": "black", "strokeWidth": 1, "strokeDash": [7, 5]},
      "encoding": {"x": {"field": "x", "type": "quantitative", "scale": {"domain": [-23, 18], "nice": false, "zero": false}, "axis": null}}
    },
    {
      "data": {"values": [{"x": 0}]},
      "mark": {"type": "rule", "color": "black", "strokeWidth": 1},
      "encoding": {"x": {"field": "x", "type": "quantitative", "scale": {"domain": [-23, 18], "nice": false, "zero": false}, "axis": null}}
    },
    {
      "data": {"values": [{"x": 0, "y": 0}]},
      "mark": {"type": "point", "opacity": 0},
      "encoding": {
        "x": {"field": "x", "type": "quantitative", "scale": {"domain": [-23, 18], "nice": false, "zero": false}, "axis": {"orient": "top", "values": [-23, -19, -15, -11, -7, -3, 1, 5, 9, 13, 17], "labels": false, "title": null, "grid": false}},
        "y": {"field": "y", "type": "quantitative", "scale": {"domain": [0, 300], "reverse": true, "nice": false, "zero": false}, "axis": {"orient": "right", "values": [0, 50, 100, 150, 200, 250, 300], "labels": false, "title": null, "grid": false}}
      }
    },
    {
      "data": {"values": [{}]},
      "mark": {"type": "text", "text": "VBD bias = 0 cc", "align": "left", "baseline": "middle", "font": "Liberation Sans", "fontWeight": "bold", "fontSize": 10.4, "color": "#993300"},
      "encoding": {
        "x": {"datum": -23, "type": "quantitative", "scale": {"domain": [-23, 18], "nice": false, "zero": false}, "axis": null},
        "y": {"datum": 325, "type": "quantitative", "scale": {"domain": [0, 300], "reverse": true, "nice": false, "zero": false}, "axis": null}
      }
    },
    {
      "data": {"values": [{}]},
      "mark": {"type": "text", "text": "best fit VBD bias=27 implies: C_VBD=2604, volmax=51255 cc, max SM_CC=531, max MAX_BUOY=-324", "align": "left", "baseline": "middle", "font": "Liberation Sans", "fontWeight": "bold", "fontSize": 10.4, "color": "#993300"},
      "encoding": {
        "x": {"datum": -23, "type": "quantitative", "scale": {"domain": [-23, 18], "nice": false, "zero": false}, "axis": null},
        "y": {"datum": 334.8, "type": "quantitative", "scale": {"domain": [0, 300], "reverse": true, "nice": false, "zero": false}, "axis": null}
      }
    }
  ]
}
